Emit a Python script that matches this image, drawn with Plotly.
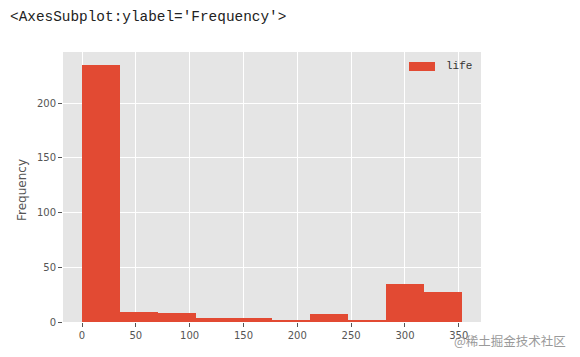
import plotly.graph_objects as go

# Histogram of 'life' (10 bins)
bin_start = 0.0
bin_width = 35.3
counts = [235, 9, 8, 4, 4, 2, 7, 1, 35, 27]
series_name = "life"
x_ticks = [0, 50, 100, 150, 200, 250, 300, 350]
y_ticks = [0, 50, 100, 150, 200]

centers = [bin_start + bin_width * (i + 0.5) for i in range(len(counts))]
x_min = bin_start
x_max = bin_start + bin_width * len(counts)
pad = 0.05 * (x_max - x_min)

fig = go.Figure()
fig.add_trace(go.Bar(
    x=centers, y=counts, width=[bin_width] * len(counts),
    marker=dict(color="#E24A33", line=dict(width=0)),
    name=series_name, showlegend=False,
))

tick_font = dict(family="DejaVu Sans", size=10, color="#555555")
fig.update_layout(
    width=580, height=357,
    margin=dict(l=63, r=99, t=52, b=35, autoexpand=False),
    paper_bgcolor="white", plot_bgcolor="#E5E5E5",
    bargap=0,
    xaxis=dict(range=[x_min - pad, x_max + pad], tickvals=x_ticks, automargin=False,
               showgrid=True, gridcolor="white", gridwidth=1,
               zeroline=False, ticks="outside", ticklen=4, tickcolor="#555555",
               tickfont=tick_font, showline=False),
    yaxis=dict(range=[0, max(counts) * 1.05], tickvals=y_ticks, automargin=False,
               showgrid=True, gridcolor="white", gridwidth=1,
               zeroline=False, ticks="outside", ticklen=4, tickcolor="#555555",
               tickfont=tick_font, showline=False),
)

# y-axis label
fig.add_annotation(xref="paper", yref="paper", x=(22 - 63) / 418, y=(322 - 190) / 270,
                   text="Frequency", textangle=-90, showarrow=False,
                   xanchor="center", yanchor="middle",
                   font=dict(family="DejaVu Sans", size=12, color="#555555"))

# custom legend (matplotlib style)
fig.add_shape(type="rect", xref="paper", yref="paper",
              x0=(409 - 63) / 418, x1=(435 - 63) / 418,
              y0=(322 - 71) / 270, y1=(322 - 62) / 270,
              fillcolor="#E24A33", line=dict(width=0))
fig.add_annotation(xref="paper", yref="paper", x=(444 - 63) / 418, y=(322 - 66) / 270,
                   text=series_name, showarrow=False, xanchor="left", yanchor="middle",
                   font=dict(family="Liberation Mono", size=11, color="#333333"))

# header text
fig.add_annotation(xref="paper", yref="paper", x=(8 - 63) / 418, y=(322 - 17) / 270,
                   text="&lt;AxesSubplot:ylabel='Frequency'&gt;", showarrow=False,
                   xanchor="left", yanchor="middle",
                   font=dict(family="Liberation Mono", size=14.4, color="#222222"))

# watermark
fig.add_annotation(xref="paper", yref="paper", x=(568 - 63) / 418, y=(322 - 340) / 270,
                   text="@稀土掘金技术社区", showarrow=False, xanchor="right", yanchor="middle",
                   font=dict(family="Noto Sans CJK SC", size=12.5, color="#9a9a9a"))

fig.write_html("out.html", config={"displayModeBar": False},
               post_script="document.body.style.margin='0';document.body.style.overflow='hidden';")
